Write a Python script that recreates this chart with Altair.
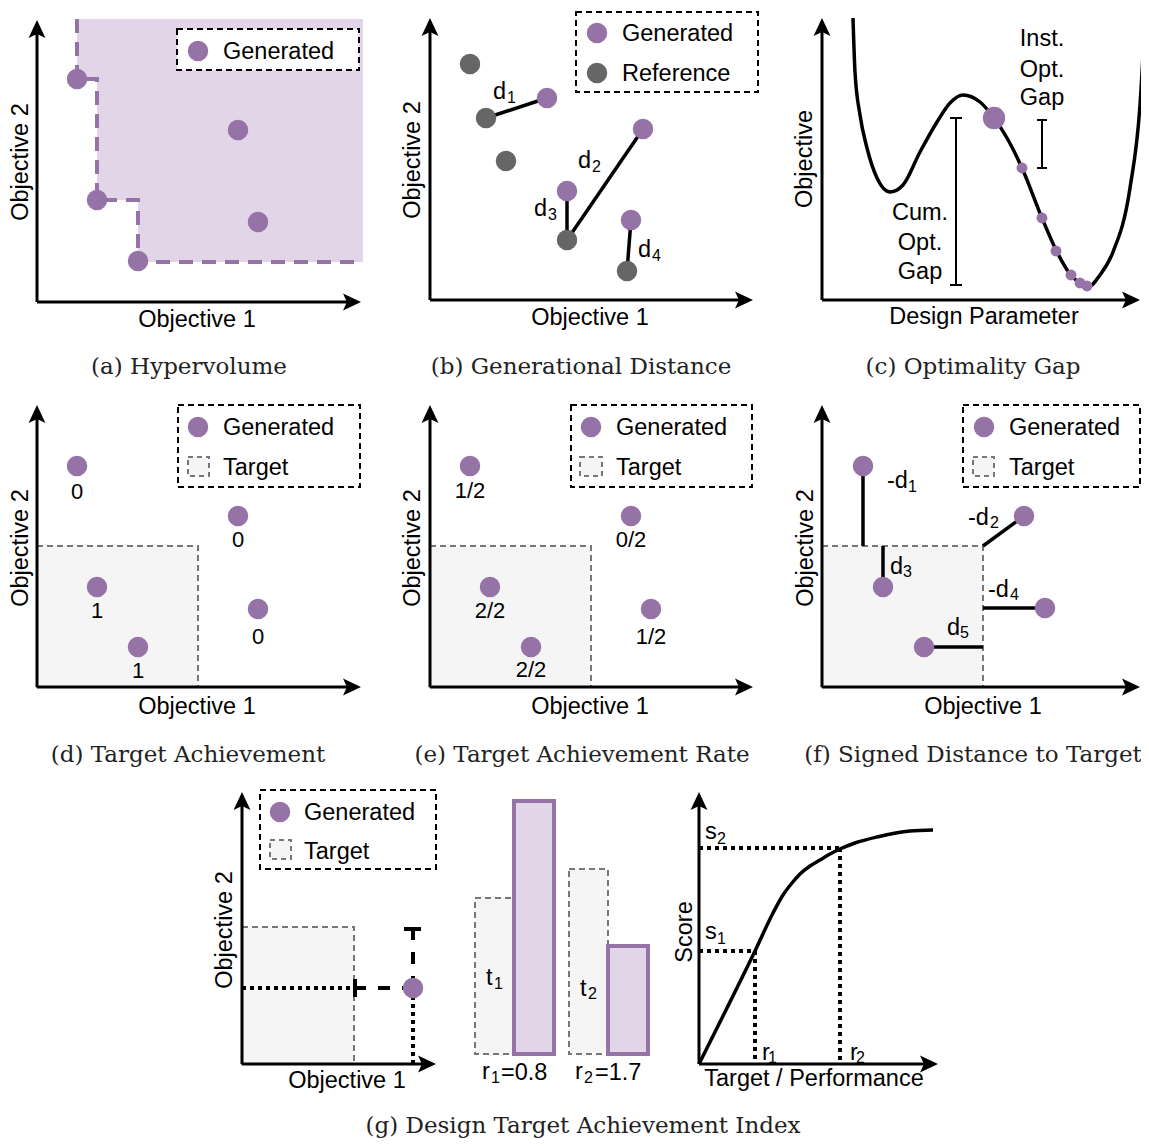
import altair as alt
import pandas as pd

PURPLE = "#9673a6"
PURPLE_FILL = "#e1d5e7"
GRAY_FILL = "#f5f5f5"
GRAY_LINE = "#777777"
REF_GRAY = "#666666"
SANS = "Liberation Sans"
SERIF = "DejaVu Serif"

# ---------------- axes frames: panels a, b, c, d, e, f, g, score --------------
axis_x0 = [37, 430, 822, 37, 430, 822, 242, 699]
axis_y0 = [302, 300, 300, 687, 687, 687, 1064, 1064]
axis_ytip = [20, 18, 18, 405, 405, 405, 792, 792]
axis_xtip = [361, 753, 1140, 361, 753, 1140, 436, 938]

# ---------------- (a) hypervolume --------------------------------------------
hv_area_x = [77, 97, 138, 363]
hv_area_y = [79, 200, 262, 262]
hv_top = 19
hv_step_x = [77, 77, 97, 97, 138, 138, 363]
hv_step_y = [19, 79, 79, 200, 200, 262, 262]
a_gen_x = [77, 97, 138, 238, 258]
a_gen_y = [79, 200, 261, 130, 222]

# ---------------- (b) generational distance ------------------------------------
b_gen_x = [547, 643, 567, 631]
b_gen_y = [98, 129, 191, 220]
b_ref_x = [470, 486, 506, 567, 627]
b_ref_y = [64, 118, 161, 240, 271]
b_seg_x = [486, 567, 567, 627]
b_seg_y = [118, 240, 240, 271]
b_seg_x2 = [547, 643, 567, 631]
b_seg_y2 = [98, 129, 191, 220]

# ---------------- (c) optimality gap ---------------------------------------------
c_curve_x = [853, 855, 860, 867, 877, 890, 903, 920, 937, 950, 963, 980, 994,
             1007, 1022, 1042, 1057, 1070, 1080, 1088, 1100, 1113, 1130, 1140, 1145]
c_curve_y = [18, 72, 115, 148, 178, 192, 185, 152, 122, 103, 95, 102, 118,
             138, 168, 218, 252, 274, 283, 287, 275, 252, 188, 105, 18]
c_big_x = [994]
c_big_y = [118]
c_small_x = [1022, 1042, 1056, 1071, 1080, 1087]
c_small_y = [168, 218, 251, 275, 283, 286]
bracket_x = [956, 950, 950, 1042, 1037, 1037]
bracket_y = [118, 118, 285, 120, 120, 168]
bracket_x2 = [956, 962, 962, 1042, 1047, 1047]
bracket_y2 = [285, 118, 285, 168, 120, 168]

# ---------------- (d) (e) (f) target panels ----------------------------------------
target_x = [37, 430, 822, 242]
target_x2 = [198, 591, 983, 354]
target_y = [546, 546, 546, 927]
target_y2 = [687, 687, 687, 1064]
d_gen_x = [77, 97, 138, 238, 258]
d_gen_y = [466, 587, 647, 516, 609]
d_labels = ["0", "1", "1", "0", "0"]
d_label_y = [492, 611, 671, 540, 637]
e_gen_x = [470, 490, 531, 631, 651]
e_gen_y = [466, 587, 647, 516, 609]
e_labels = ["1/2", "2/2", "2/2", "0/2", "1/2"]
e_label_y = [491, 611, 670, 540, 637]
f_gen_x = [863, 883, 924, 1024, 1045]
f_gen_y = [466, 587, 647, 516, 608]
f_seg_x = [863, 883, 983, 983, 924]
f_seg_y = [466, 546, 546, 608, 647]
f_seg_x2 = [863, 883, 1024, 1045, 983]
f_seg_y2 = [546, 587, 516, 608, 647]

# ---------------- (g) design target achievement index --------------------------------
g_gen_x = [413]
g_gen_y = [988]
g_dot_x = [242, 413, 699, 755, 699, 840]
g_dot_y = [988, 988, 951, 951, 848, 848]
g_dot_x2 = [352, 413, 755, 755, 840, 840]
g_dot_y2 = [988, 1064, 951, 1064, 848, 1064]
g_dash_x = [354, 413]
g_dash_y = [988, 928]
g_dash_x2 = [413, 413]
g_dash_y2 = [988, 988]
g_tick_x = [355, 404]
g_tick_y = [979, 929]
g_tick_x2 = [355, 421]
g_tick_y2 = [997, 929]
tbar_x = [475, 569]
tbar_x2 = [514, 608]
tbar_y = [898, 869]
rbar_x = [514, 608]
rbar_x2 = [554, 648]
rbar_y = [801, 946]
bar_base = [1054, 1054]
score_x = [699, 727, 755, 773, 783, 792, 800, 810, 820, 830, 840, 855, 877, 910, 933]
score_y = [1064, 1008, 951, 913, 895, 883, 874, 866, 860, 854, 849, 843, 837, 831, 830]

# ---------------- legends ----------------------------------------------------------------
legend_x = [177, 576, 178, 571, 963, 260]
legend_x2 = [359, 758, 360, 752, 1140, 436]
legend_y = [29, 12, 405, 405, 405, 790]
legend_y2 = [70, 92, 487, 487, 487, 869]
leg_gen_x = [198, 597, 198, 591, 984, 280]
leg_gen_y = [51, 33, 427, 427, 427, 812]
leg_ref_x = [597]
leg_ref_y = [73]
leg_tgt_x = [188, 580, 973, 270]
leg_tgt_x2 = [209, 602, 994, 291]
leg_tgt_y = [457, 457, 457, 840]
leg_tgt_y2 = [476, 476, 476, 859]
leg_text = ["Generated", "Generated", "Reference", "Generated", "Target",
            "Generated", "Target", "Generated", "Target", "Generated", "Target"]
leg_text_x = [223, 622, 622, 223, 223, 616, 616, 1009, 1009, 304, 304]
leg_text_y = [52, 34, 74, 428, 468, 428, 468, 428, 468, 813, 852]

# ---------------- text -------------------------------------------------------------------
hlab_text = ["Objective 1", "Objective 1", "Design Parameter", "Objective 1",
             "Objective 1", "Objective 1", "Objective 1", "Target / Performance"]
hlab_x = [197, 590, 984, 197, 590, 983, 347, 814]
hlab_y = [320, 318, 317, 707, 707, 707, 1081, 1079]
vlab_text = ["Objective 2", "Objective 2", "Objective", "Objective 2",
             "Objective 2", "Objective 2", "Objective 2", "Score"]
vlab_x = [21, 413, 805, 21, 413, 806, 225, 685]
vlab_y = [162, 160, 159, 548, 548, 548, 930, 932]
gap_text = ["Cum.", "Opt.", "Gap", "Inst.", "Opt.", "Gap"]
gap_x = [920, 920, 920, 1042, 1042, 1042]
gap_y = [213, 243, 272, 39, 70, 98]
base_text = ["d", "d", "d", "d", "-d", "-d", "d", "-d", "d",
             "t", "t", "r", "r", "s", "s", "r", "r"]
base_x = [493, 578, 534, 638, 887, 968, 890, 988, 947,
          486, 580, 482, 575, 705, 705, 762, 850]
base_y = [92, 161, 209, 250, 481, 518, 567, 590, 628,
          978, 989, 1072, 1072, 832, 932, 1053, 1053]
sub_text = ["1", "2", "3", "4", "1", "2", "3", "4", "5",
            "1", "2", "1", "2", "2", "1", "1", "2"]
sub_x = [507, 592, 548, 652, 908, 990, 903, 1010, 960,
         494, 588, 491, 584, 717, 717, 768, 856]
sub_y = [98, 167, 215, 256, 487, 523, 572, 595, 633,
         984, 994, 1078, 1078, 839, 939, 1058, 1058]
ratio_text = ["=0.8", "=1.7"]
ratio_x = [501, 595]
ratio_y = [1073, 1073]
caption_text = ["(a) Hypervolume", "(b) Generational Distance", "(c) Optimality Gap",
                "(d) Target Achievement", "(e) Target Achievement Rate",
                "(f) Signed Distance to Target", "(g) Design Target Achievement Index"]
caption_x = [189, 581, 973, 188, 582, 973, 583]
caption_y = [367, 367, 367, 755, 755, 755, 1126]

# =====================================================================================
xs = alt.Scale(domain=[8, 1141], nice=False, zero=False)
ys = alt.Scale(domain=[8, 1138], nice=False, zero=False, reverse=True)
X = alt.X("x:Q", scale=xs, axis=None)
Y = alt.Y("y:Q", scale=ys, axis=None)
X2 = alt.X2("x2:Q")
Y2 = alt.Y2("y2:Q")


def rect_df(x, x2, y, y2):
    return pd.DataFrame({"x": x, "x2": x2, "y": y, "y2": y2})


def pt_df(x, y):
    return pd.DataFrame({"x": x, "y": y})


def txt_df(t, x, y):
    return pd.DataFrame({"t": t, "x": x, "y": y})


def rects(d, **kw):
    return alt.Chart(d).mark_rect(**kw).encode(x=X, x2=X2, y=Y, y2=Y2)


def rules(d, **kw):
    return alt.Chart(d).mark_rule(**kw).encode(x=X, x2=X2, y=Y, y2=Y2)


def points(d, **kw):
    return alt.Chart(d).mark_point(filled=True, opacity=1, strokeWidth=0, **kw).encode(x=X, y=Y)


def texts(d, **kw):
    return alt.Chart(d).mark_text(**kw).encode(x=X, y=Y, text=alt.Text("t:N"))


layers = []
# hypervolume region (single stepped area)
hv_area = pd.DataFrame({"x": hv_area_x, "y": hv_area_y, "y2": [hv_top] * len(hv_area_x)})
layers.append(alt.Chart(hv_area).mark_area(color=PURPLE_FILL, opacity=1, interpolate="step-after")
              .encode(x=X, y=Y, y2=Y2))
layers.append(rects(rect_df(target_x, target_x2, target_y, target_y2),
                    fill=GRAY_FILL, stroke=GRAY_LINE, strokeWidth=2, strokeDash=[6, 4]))
layers.append(rects(rect_df(tbar_x, tbar_x2, tbar_y, bar_base),
                    fill=GRAY_FILL, stroke=GRAY_LINE, strokeWidth=2, strokeDash=[6, 4]))
layers.append(rects(rect_df(rbar_x, rbar_x2, rbar_y, bar_base),
                    fill=PURPLE_FILL, stroke=PURPLE, strokeWidth=4))
# hypervolume dashed staircase
hv_line = pd.DataFrame({"x": hv_step_x, "y": hv_step_y, "i": range(len(hv_step_x))})
layers.append(alt.Chart(hv_line).mark_line(color=PURPLE, strokeWidth=4, strokeDash=[14, 9])
              .encode(x=X, y=Y, order="i:Q"))
# curves
curves = pd.concat([
    pd.DataFrame({"x": c_curve_x, "y": c_curve_y, "c": "opt", "i": range(len(c_curve_x))}),
    pd.DataFrame({"x": score_x, "y": score_y, "c": "score", "i": range(len(score_x))}),
])
layers.append(alt.Chart(curves).mark_line(color="black", strokeWidth=3.5, interpolate="monotone")
              .encode(x=X, y=Y, detail="c:N", order="i:Q"))
# segments
segs = pd.concat([rect_df(b_seg_x, b_seg_x2, b_seg_y, b_seg_y2),
                  rect_df(f_seg_x, f_seg_x2, f_seg_y, f_seg_y2)])
layers.append(rules(segs, color="black", strokeWidth=3.5))
layers.append(rules(rect_df(bracket_x, bracket_x2, bracket_y, bracket_y2), color="black", strokeWidth=2))
layers.append(rules(rect_df(g_dot_x, g_dot_x2, g_dot_y, g_dot_y2), color="black", strokeWidth=4,
                    strokeDash=[4, 4]))
layers.append(rules(rect_df(g_dash_x, g_dash_x2, g_dash_y, g_dash_y2), color="black", strokeWidth=4,
                    strokeDash=[12, 12]))
layers.append(rules(rect_df(g_tick_x, g_tick_x2, g_tick_y, g_tick_y2), color="black", strokeWidth=4))
# axes
AR = 11.25
ax_lines = pd.concat([
    rect_df(axis_x0, axis_x0, axis_y0, [t + 10 for t in axis_ytip]),
    rect_df(axis_x0, [t - 10 for t in axis_xtip], axis_y0, axis_y0),
])
layers.append(rules(ax_lines, color="black", strokeWidth=3))
up = pt_df(axis_x0, [t + AR for t in axis_ytip])
right = pt_df([t - AR for t in axis_xtip], axis_y0)
layers.append(points(up, color="black", size=(2 * AR) ** 2,
                     shape="M0,-1L0.75,0.6L0,0.25L-0.75,0.6Z"))
layers.append(points(right, color="black", size=(2 * AR) ** 2,
                     shape="M1,0L-0.6,0.75L-0.25,0L-0.6,-0.75Z"))
# data points
gen = pd.concat([pt_df(a_gen_x, a_gen_y), pt_df(b_gen_x, b_gen_y), pt_df(d_gen_x, d_gen_y),
                 pt_df(e_gen_x, e_gen_y), pt_df(f_gen_x, f_gen_y), pt_df(g_gen_x, g_gen_y)])
layers.append(points(gen, color=PURPLE, size=420, shape="circle"))
layers.append(points(pt_df(b_ref_x, b_ref_y), color=REF_GRAY, size=420, shape="circle"))
layers.append(points(pt_df(c_big_x, c_big_y), color=PURPLE, size=500, shape="circle"))
layers.append(points(pt_df(c_small_x, c_small_y), color=PURPLE, size=120, shape="circle"))
# legends
layers.append(rects(rect_df(legend_x, legend_x2, legend_y, legend_y2),
                    fill="white", stroke="black", strokeWidth=2, strokeDash=[6, 4]))
layers.append(rects(rect_df(leg_tgt_x, leg_tgt_x2, leg_tgt_y, leg_tgt_y2),
                    fill=GRAY_FILL, stroke=GRAY_LINE, strokeWidth=2, strokeDash=[5, 4]))
layers.append(points(pt_df(leg_gen_x, leg_gen_y), color=PURPLE, size=420, shape="circle"))
layers.append(points(pt_df(leg_ref_x, leg_ref_y), color=REF_GRAY, size=420, shape="circle"))
# text
FS = 23.5
layers.append(texts(txt_df(leg_text, leg_text_x, leg_text_y), font=SANS, fontSize=FS,
                    align="left", baseline="middle"))
layers.append(texts(txt_df(hlab_text, hlab_x, hlab_y), font=SANS, fontSize=FS,
                    align="center", baseline="middle"))
layers.append(texts(txt_df(vlab_text, vlab_x, vlab_y), font=SANS, fontSize=FS,
                    align="center", baseline="middle", angle=270))
layers.append(texts(txt_df(gap_text, gap_x, gap_y), font=SANS, fontSize=FS,
                    align="center", baseline="middle"))
layers.append(texts(txt_df(d_labels, d_gen_x, d_label_y), font=SANS, fontSize=22,
                    align="center", baseline="middle"))
layers.append(texts(txt_df(e_labels, e_gen_x, e_label_y), font=SANS, fontSize=22,
                    align="center", baseline="middle"))
layers.append(texts(txt_df(base_text, base_x, base_y), font=SANS, fontSize=FS,
                    align="left", baseline="middle"))
layers.append(texts(txt_df(sub_text, sub_x, sub_y), font=SANS, fontSize=16,
                    align="left", baseline="middle"))
layers.append(texts(txt_df(ratio_text, ratio_x, ratio_y), font=SANS, fontSize=FS,
                    align="left", baseline="middle"))
layers.append(texts(txt_df(caption_text, caption_x, caption_y), font=SERIF, fontSize=23,
                    align="center", baseline="middle", color="#222222"))

chart = alt.layer(*layers).properties(
    width=1133, height=1130, padding=0, autosize=alt.AutoSizeParams(type="none")
).configure_view(strokeWidth=0)

chart.save("out.html", embed_options={"renderer": "svg", "actions": False})
